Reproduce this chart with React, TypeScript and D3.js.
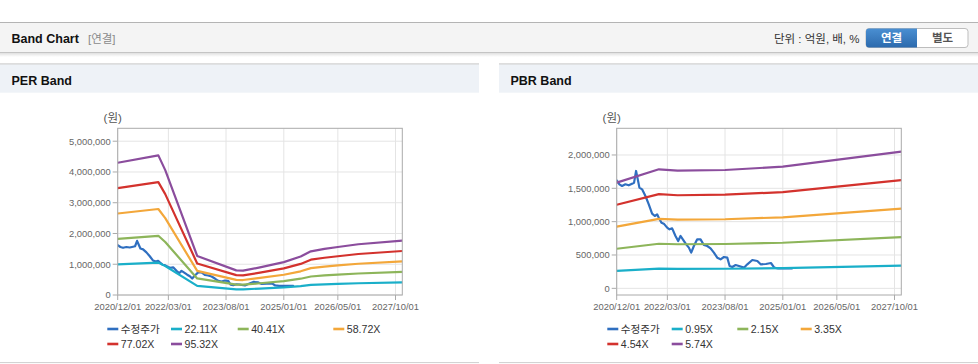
import React from "react";
import * as d3 from "d3";

// ---------- data ----------
const tickDates = ["2020-12-01", "2022-03-01", "2023-08-01", "2025-01-01", "2026-05-01", "2027-10-01"];
const tickLabels = ["2020/12/01", "2022/03/01", "2023/08/01", "2025/01/01", "2026/05/01", "2027/10/01"];
const xStart = "2020-12-01";
const xEnd = "2027-12-01";

// 수정주가 (adjusted price, won)
const priceDates = [
  "2020-12-01", "2020-12-25", "2021-01-18", "2021-02-17", "2021-03-19", "2021-04-18", "2021-05-06",
  "2021-05-24", "2021-06-05", "2021-06-23", "2021-07-17", "2021-08-16", "2021-09-15", "2021-10-15",
  "2021-11-08", "2021-11-29", "2021-12-14", "2022-01-07", "2022-01-28", "2022-02-27", "2022-03-20",
  "2022-04-13", "2022-05-13", "2022-06-06", "2022-06-27", "2022-07-18", "2022-08-17", "2022-09-10",
  "2022-10-01", "2022-10-25", "2022-11-24", "2022-12-24", "2023-01-23", "2023-02-22", "2023-03-24",
  "2023-04-23", "2023-05-23", "2023-06-22", "2023-07-22", "2023-08-21", "2023-09-11", "2023-10-05",
  "2023-11-04", "2023-12-04", "2024-01-18", "2024-02-17", "2024-04-02", "2024-05-17", "2024-06-16",
  "2024-08-02", "2024-09-16", "2024-10-16", "2024-11-20", "2025-01-09", "2025-02-17", "2025-03-26",
];
const priceValues = [
  1620000, 1560000, 1535000, 1560000, 1545000, 1570000, 1585000,
  1760000, 1660000, 1510000, 1485000, 1385000, 1260000, 1120000,
  1085000, 1110000, 1060000, 985000, 970000, 910000, 885000,
  900000, 785000, 710000, 785000, 735000, 660000, 610000,
  535000, 635000, 735000, 735000, 650000, 635000, 600000,
  535000, 460000, 435000, 470000, 460000, 335000, 320000,
  350000, 335000, 310000, 360000, 425000, 410000, 360000,
  365000, 380000, 310000, 298000, 300000, 298000, 300000,
];

// PER band: EPS (won) at key dates, band = multiple x EPS
const epsDates = [
  "2020-12-01", "2021-12-01", "2022-02-01", "2022-11-15", "2023-11-01", "2024-01-01", "2024-06-01",
  "2025-01-01", "2025-06-01", "2025-09-01", "2026-01-01", "2026-05-01", "2026-11-01", "2027-12-01",
];
const epsValues = [
  45112, 47629, 42600, 13323, 8393, 8288, 9442,
  11225, 13114, 14897, 15736, 16366, 17310, 18569,
];
const perMultiples = [22.11, 40.41, 58.72, 77.02, 95.32];
const perLabels = ["22.11X", "40.41X", "58.72X", "77.02X", "95.32X"];

// PBR band: BPS (won) at key dates
const bpsDates = ["2020-12-01", "2021-12-15", "2022-06-01", "2023-08-01", "2025-01-01", "2027-12-01"];
const bpsValues = [276132, 310976, 307491, 309233, 317944, 357143];
const pbrMultiples = [0.95, 2.15, 3.35, 4.54, 5.74];
const pbrLabels = ["0.95X", "2.15X", "3.35X", "4.54X", "5.74X"];

const perYTicks = [0, 1000000, 2000000, 3000000, 4000000, 5000000];
const pbrYTicks = [0, 500000, 1000000, 1500000, 2000000];

const priceColor = "#2f6fc0";
const bandColors = ["#1aafc9", "#8db55a", "#f3a73a", "#d3322d", "#8b4d9d"];

const FONT = "'Liberation Sans', Arial, 'Noto Sans CJK KR', sans-serif";
const parse = d3.utcParse("%Y-%m-%d");

type PanelProps = {
  x0: number;
  title: string;
  yDomain: [number, number];
  yTicks: number[];
  baseDates: string[];
  baseValues: number[];
  multiples: number[];
  labels: string[];
  legendX: number[];
  id: string;
};

function Panel(p: PanelProps) {
  const left = p.x0 + 117.7;
  const right = p.x0 + 402.3;
  const top = 128.3;
  const bottom = 295;
  const x = d3.scaleUtc().domain([parse(xStart)!, parse(xEnd)!]).range([left, right]);
  const y = d3.scaleLinear().domain(p.yDomain).range([bottom, top]);
  const fmt = d3.format(",");
  const line = d3
    .line<[Date, number]>()
    .x((d) => x(d[0]))
    .y((d) => y(d[1]));
  const pricePts: [Date, number][] = priceDates.map((d, i) => [parse(d)!, priceValues[i]]);
  const bands = p.multiples.map((m) =>
    p.baseDates.map((d, i) => [parse(d)!, p.baseValues[i] * m] as [Date, number])
  );
  const legendItems = [{ label: "수정주가", color: priceColor }].concat(
    p.labels.map((l, i) => ({ label: l, color: bandColors[i] }))
  );
  const panelW = 479;
  return (
    <g>
      {/* title bar */}
      <rect x={p.x0} y={64} width={panelW} height={28.7} fill="#eef2f7" />
      <line x1={p.x0} x2={p.x0 + panelW} y1={63.8} y2={63.8} stroke="#d2d2d2" strokeWidth={1.2} />
      <text x={p.x0 + 11.5} y={84.5} fontFamily={FONT} fontSize={12.5} fontWeight="bold" fill="#111">
        {p.title}
      </text>
      <line x1={p.x0} x2={p.x0 + panelW} y1={362.6} y2={362.6} stroke="#cfcfcf" strokeWidth={1} />

      {/* unit */}
      <text x={left - 5} y={122} fontFamily={FONT} fontSize={11.5} fill="#555" textAnchor="middle">
        (원)
      </text>

      <defs>
        <clipPath id={p.id}>
          <rect x={left} y={top} width={right - left} height={bottom - top} />
        </clipPath>
      </defs>

      {/* grid */}
      {p.yTicks.map((t) => (
        <g key={"y" + t}>
          <line x1={left} x2={right} y1={y(t)} y2={y(t)} stroke="#e4e4e4" strokeWidth={1} />
          <line x1={left - 5} x2={left} y1={y(t)} y2={y(t)} stroke="#aaa" strokeWidth={1} />
          <text
            x={left - 7}
            y={y(t) + 3.3}
            fontFamily={FONT}
            fontSize={9.4}
            fill="#666"
            textAnchor="end"
          >
            {fmt(t)}
          </text>
        </g>
      ))}
      {tickDates.map((d, i) => {
        const xx = x(parse(d)!);
        return (
          <g key={"x" + d}>
            <line x1={xx} x2={xx} y1={top} y2={bottom} stroke="#e4e4e4" strokeWidth={1} />
            <line x1={xx} x2={xx} y1={bottom} y2={bottom + 5} stroke="#aaa" strokeWidth={1} />
            <text x={xx} y={310.3} fontFamily={FONT} fontSize={9.4} fill="#666" textAnchor="middle">
              {tickLabels[i]}
            </text>
          </g>
        );
      })}

      {/* series */}
      <g clipPath={`url(#${p.id})`} fill="none" strokeLinejoin="round" strokeLinecap="round">
        <path d={line(pricePts) || ""} stroke={priceColor} strokeWidth={2.2} />
        {bands.map((b, i) => (
          <path key={i} d={line(b) || ""} stroke={bandColors[i]} strokeWidth={2.2} />
        ))}
      </g>

      {/* border */}
      <rect x={left} y={top} width={right - left} height={bottom - top} fill="none" stroke="#aaa" strokeWidth={1} />

      {/* legend */}
      {legendItems.map((it, i) => {
        const row = i < 4 ? 0 : 1;
        const col = i < 4 ? i : i - 4;
        const lx = p.legendX[col];
        const ly = row === 0 ? 329 : 344;
        return (
          <g key={"l" + i}>
            <line x1={lx} x2={lx + 11} y1={ly} y2={ly} stroke={it.color} strokeWidth={2.6} />
            <text x={lx + 13.5} y={ly + 3.8} fontFamily={FONT} fontSize={10.6} fill="#333">
              {it.label}
            </text>
          </g>
        );
      })}
    </g>
  );
}

export default function App() {
  return (
    <svg
      width={978}
      height={364}
      style={{ position: "absolute", left: 0, top: 0, display: "block", background: "#fff" }}
    >
      <defs>
        <linearGradient id="btnBlue" x1="0" y1="0" x2="0" y2="1">
          <stop offset="0" stopColor="#4a8fd2" />
          <stop offset="1" stopColor="#2c6aad" />
        </linearGradient>
        <linearGradient id="shadow" x1="0" y1="0" x2="0" y2="1">
          <stop offset="0" stopColor="#000" stopOpacity={0.12} />
          <stop offset="1" stopColor="#000" stopOpacity={0} />
        </linearGradient>
      </defs>
      <rect x={0} y={0} width={978} height={364} fill="#fff" />

      {/* header */}
      <rect x={0} y={22.5} width={978} height={30} fill="#f4f4f4" />
      <line x1={0} x2={978} y1={22.5} y2={22.5} stroke="#b4b4b4" strokeWidth={1} />
      <line x1={0} x2={978} y1={52.5} y2={52.5} stroke="#c4c4c4" strokeWidth={1} />
      <rect x={0} y={53} width={978} height={4} fill="url(#shadow)" />
      <text x={11.5} y={42.5} fontFamily={FONT} fontSize={12.5} fontWeight="bold" fill="#111">
        Band Chart
      </text>
      <text x={88} y={42.5} fontFamily={FONT} fontSize={11.5} fill="#8a8a8a">
        [연결]
      </text>
      <text x={859.5} y={42.5} fontFamily={FONT} fontSize={11.5} fill="#333" textAnchor="end">
        단위 : 억원, 배, %
      </text>
      <rect x={866} y={28.5} width={102} height={19} rx={3} fill="#fff" stroke="#bdbdbd" strokeWidth={1} />
      <path d="M917,28.5 L869,28.5 Q866,28.5 866,31.5 L866,44.5 Q866,47.5 869,47.5 L917,47.5 Z" fill="url(#btnBlue)" />
      <text x={891.5} y={42.3} fontFamily={FONT} fontSize={11.5} fontWeight="bold" fill="#fff" textAnchor="middle">
        연결
      </text>
      <text x={942.5} y={42.3} fontFamily={FONT} fontSize={11.5} fontWeight="bold" fill="#555" textAnchor="middle">
        별도
      </text>

      <Panel
        id="clipPer"
        x0={0}
        title="PER Band"
        yDomain={[0, 5420000]}
        yTicks={perYTicks}
        baseDates={epsDates}
        baseValues={epsValues}
        multiples={perMultiples}
        labels={perLabels}
        legendX={[107.3, 171, 237.7, 333.3]}
      />
      <Panel
        id="clipPbr"
        x0={499}
        title="PBR Band"
        yDomain={[-100000, 2400000]}
        yTicks={pbrYTicks}
        baseDates={bpsDates}
        baseValues={bpsValues}
        multiples={pbrMultiples}
        labels={pbrLabels}
        legendX={[607.3, 671.7, 737.3, 800.7]}
      />
    </svg>
  );
}
